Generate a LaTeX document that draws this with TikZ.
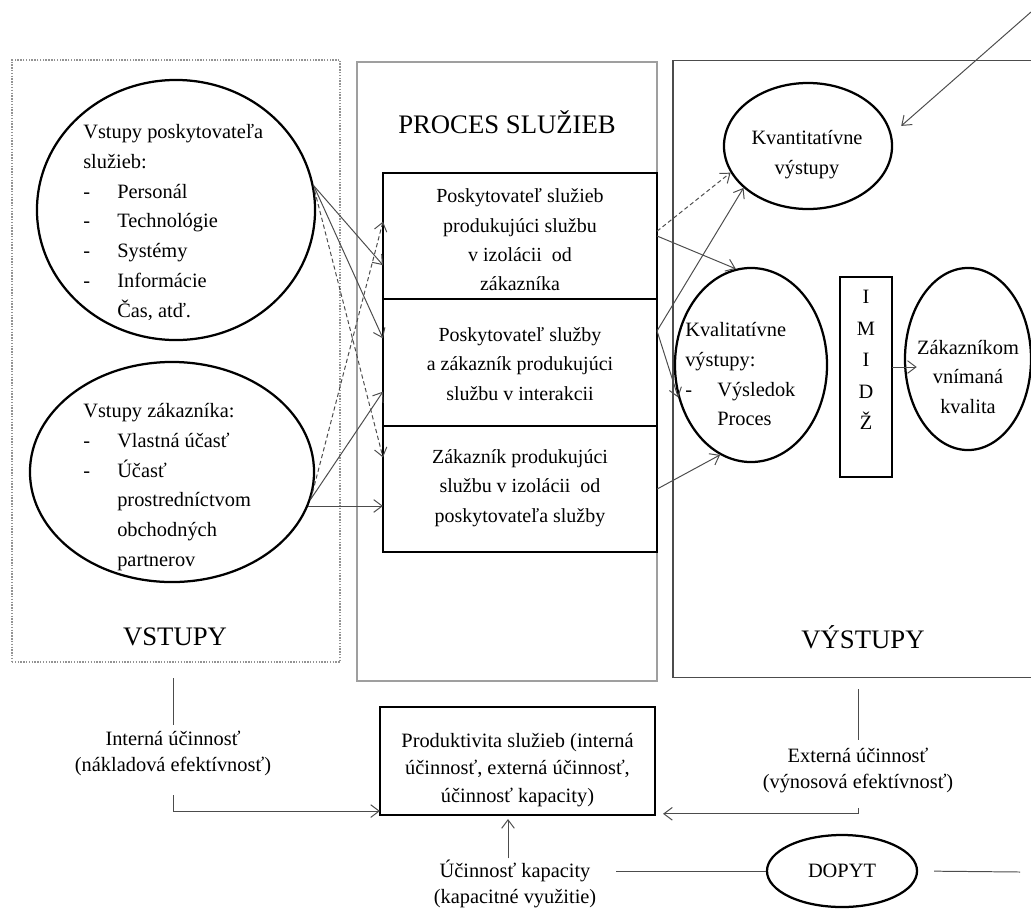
\documentclass[tikz,border=0pt]{standalone}
\usepackage{fontspec}
\setmainfont{Liberation Serif}
\usetikzlibrary{arrows.meta,positioning,shapes.geometric,calc}
\newcommand{\dashitem}[1]{\makebox[0.85cm][l]{-}#1}
\tikzset{
  sframe/.style={draw=gray!75, line width=1.1pt, inner sep=0pt, outer sep=0pt},
  sframedot/.style={draw=gray!85, densely dotted, line width=1pt, inner sep=0pt, outer sep=0pt},
  sframeout/.style={draw=black!70, line width=0.8pt, inner sep=0pt, outer sep=0pt},
  sbox/.style={draw, line width=1.8pt, align=center, inner sep=2pt, outer sep=0pt, font=\fontsize{14.2}{20.8}\selectfont},
  sell/.style={draw, ellipse, line width=1.6pt, inner sep=0pt, align=center, font=\fontsize{14.5}{20.5}\selectfont},
  stext/.style={align=left, inner sep=0pt, font=\fontsize{14.5}{21.2}\selectfont},
  snote/.style={align=center, inner sep=1pt, font=\fontsize{14.5}{18.5}\selectfont},
  stitle/.style={inner sep=0pt, font=\fontsize{19}{23}\selectfont},
  sarrow/.style={-{Straight Barb[length=6pt,width=9pt]}, draw=black!70, line width=0.7pt},
  sdashed/.style={sarrow, dash pattern=on 3pt off 2pt},
  sline/.style={draw=black!70, line width=0.7pt}
}
\begin{document}
\begin{tikzpicture}[x=0.025cm, y=-0.025cm]
\useasboundingbox (0,0) rectangle (1031,909);

\node[sframedot, minimum width=8.2cm, minimum height=15.05cm] (inframe) at (176,361) {};
\node[sframe, minimum width=7.5cm, minimum height=15.475cm] (procframe) at (507,371.5) {};
\node[sframeout, minimum width=9.175cm, minimum height=15.4cm] (outframe) at (856.5,369) {};

\node[stitle] (proctitle) at (507,122) {PROCES SLUŽIEB};
\node[stitle] (intitle) at (175,637) {VSTUPY};
\node[stitle] (outtitle) at (863,637) {VÝSTUPY};

\node[sell, minimum width=6.95cm, minimum height=6.5cm] (provin) at (176,210) {};
\node[stext, anchor=north west] (provtxt) at (83,124) {Vstupy poskytovateľa\\služieb:\\\dashitem{Personál}\\\dashitem{Technológie}\\\dashitem{Systémy}\\\dashitem{Informácie}\\\hspace*{0.85cm}Čas, atď.};
\node[sell, minimum width=7.1cm, minimum height=5.5cm] (custin) at (172,472) {};
\node[stext, anchor=north west] (custtxt) at (83,403) {Vstupy zákazníka:\\\dashitem{Vlastná účasť}\\\dashitem{Účasť}\\\hspace*{0.85cm}prostredníctvom\\\hspace*{0.85cm}obchodných\\\hspace*{0.85cm}partnerov};

\node[sbox, minimum width=6.85cm, minimum height=3.15cm] (box1) at (520,236) {};
\node[sbox, minimum width=6.85cm, minimum height=3.175cm, below=0pt of box1] (box2) {};
\node[sbox, minimum width=6.85cm, minimum height=3.15cm, below=0pt of box2] (box3) {};
\node[stext, align=center, font=\fontsize{14.2}{20.8}\selectfont] (box1txt) at (520,240) {Poskytovateľ služieb\\produkujúci službu\\v izolácii\ \ od\\zákazníka};
\node[stext, align=center, font=\fontsize{14.2}{20.8}\selectfont] (box2txt) at (520,364) {Poskytovateľ služby\\a zákazník produkujúci\\službu v interakcii};
\node[stext, align=center, font=\fontsize{14.2}{20.8}\selectfont] (box3txt) at (520,488) {Zákazník produkujúci\\službu v izolácii\ \ od\\poskytovateľa služby};

\node[sell, minimum width=4.2cm, minimum height=3.15cm] (kvant) at (808,146) {};
\node[stext, align=center] (kvanttxt) at (807,155) {Kvantitatívne\\výstupy};
\node[sell, minimum width=3.8cm, minimum height=4.85cm] (kval) at (751,365) {};
\node[stext, anchor=north west] (kvaltxt) at (685,322) {Kvalitatívne\\výstupy:\\\makebox[0.8cm][l]{-}Výsledok\\\hspace*{0.8cm}Proces};
\node[sbox, minimum width=1.3cm, minimum height=5cm] (imid) at (866,377) {};
\node[stext, align=center, font=\fontsize{14.5}{22.3}\selectfont] (imidtxt) at (866,360) {I\\M\\I\\D\\Ž};
\node[sell, minimum width=3.15cm, minimum height=4.55cm] (zak) at (968,359) {};
\node[stext, align=center] (zaktxt) at (968,377) {Zákazníkom\\vnímaná\\kvalita};

\node[sbox, minimum width=6.875cm, minimum height=2.7cm] (prod) at (517.5,761) {};
\node[stext, align=center, font=\fontsize{14.5}{19.8}\selectfont] (prodtxt) at (517.5,770) {Produktivita služieb (interná\\účinnosť, externá účinnosť,\\účinnosť kapacity)};
\node[snote] (intlbl) at (173,753) {Interná účinnosť\\(nákladová efektívnosť)};
\node[snote] (extlbl) at (858,770) {Externá účinnosť\\(výnosová efektívnosť)};
\node[snote] (kaplbl) at (515,884) {Účinnosť kapacity\\(kapacitné využitie)};
\node[sell, minimum width=3.75cm, minimum height=1.8cm] (dopyt) at (842,871) {DOPYT};
\coordinate (edgelow) at (1020,872);
\coordinate (edgetop) at (1031,12);

\draw[sarrow] (provin.10) -- (box1.192);
\draw[sarrow] (provin.10) -- (box2.170);
\draw[sdashed] (provin.8) -- (box3.167);
\draw[sdashed] (custin.-11) -- (box1.174);
\draw[sarrow] (custin.-11) -- (box2.192);
\draw[sarrow] (custin.-14.6) -- (custin.-14.6 -| box3.west);

\draw[sdashed] (box1.2) -- (kvant.199);
\draw[sarrow] (box1.east) -- (kval.99);
\draw[sarrow] (box2.13) -- (kvant.213);
\draw[sarrow] (box2.13) -- (kval.204);
\draw[sarrow] (box3.east) -- (kval.251);
\draw[sarrow] (imid.21) -- (imid.21 -| zaktxt.west);
\draw[sarrow, shorten >=9pt] (edgetop) -- (kvant.8);

\draw[sline, shorten <=0.4cm, shorten >=0.1cm] (intlbl.north |- inframe.south) -- (intlbl.north);
\draw[sarrow, shorten <=0.45cm] (intlbl.south) |- (prod.200.7);
\draw[sline, shorten <=0.3cm, shorten >=0.15cm] (extlbl.north |- outframe.south) -- (extlbl.north);
\draw[sarrow, shorten <=0.35cm, shorten >=0.2cm] (extlbl.south) |- (prod.-21.1);
\draw[sarrow, shorten >=0.1cm] (kaplbl.north -| 508,0) -- (prod.south -| 508,0);
\draw[sline, shorten >=0.45cm] (dopyt.west) -- (dopyt.west -| kaplbl.east);
\draw[sline, shorten <=0.4cm] (dopyt.east) -- (edgelow);
\end{tikzpicture}
\end{document}
